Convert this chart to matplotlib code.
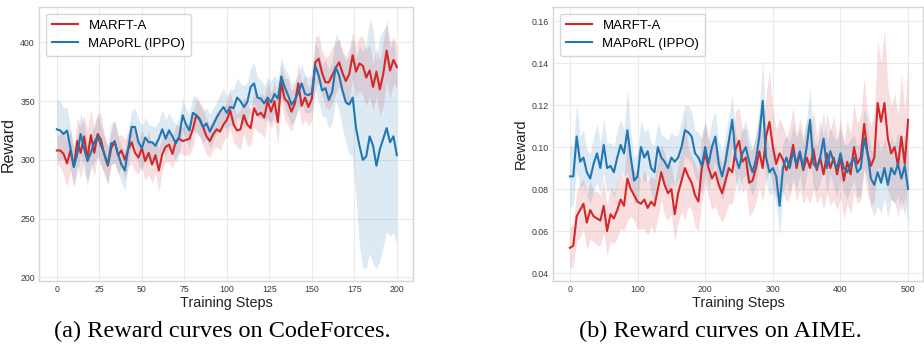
"""Reward curves of MARFT-A vs MAPoRL (IPPO) on CodeForces and AIME."""

import numpy as np
import matplotlib
matplotlib.use("Agg")
import matplotlib.pyplot as plt

# ---- CodeForces (every 2nd training step, 0..200) ----
CF_STEPS = list(range(0, 201, 2))

CF_MARFT = [
    308, 308, 305, 297, 308, 294, 316, 306, 320, 301,
    321, 306, 322, 317, 304, 295, 310, 316, 304, 308,
    300, 309, 315, 306, 302, 310, 299, 306, 296, 304,
    291, 305, 311, 313, 305, 316, 318, 316, 317, 318,
    326, 338, 334, 328, 320, 316, 322, 326, 324, 330,
    334, 342, 330, 325, 326, 338, 330, 327, 344, 338,
    340, 336, 350, 341, 350, 332, 366, 352, 349, 341,
    348, 365, 346, 353, 345, 352, 383, 386, 374, 366,
    366, 372, 378, 383, 374, 367, 373, 389, 375, 382,
    380, 370, 376, 362, 375, 360, 373, 393, 376, 385,
    379,
]
CF_MARFT_STD = [
    12, 14, 18, 20, 17, 16,
    20, 22, 18, 25, 22, 20, 18, 22, 17, 16,
    15, 18, 16, 14, 17, 15, 18, 16, 14, 15, 17, 18, 16, 15, 19,
    14, 13, 15, 12, 14, 11, 12, 13, 14, 15, 13, 14, 16, 15, 14, 13, 15, 16, 14, 15,
    16, 15, 14, 17, 16, 18, 15, 16, 14, 17, 18, 16, 15, 17, 19, 16, 18, 20, 17, 15,
    18, 17, 19, 16, 18,
    22, 20, 19, 21, 23, 24, 22, 20, 19, 21, 22, 20, 21, 23, 25, 24, 22, 20, 21, 23,
    28, 26, 24, 20, 18,
]
CF_MAPORL = [
    326, 325, 322, 325, 310, 294, 305, 322, 310, 299,
    306, 315, 320, 312, 305, 296, 314, 315, 305, 296,
    291, 310, 328, 328, 315, 310, 319, 315, 315, 312,
    318, 326, 318, 325, 320, 314, 320, 338, 330, 325,
    340, 338, 335, 328, 331, 324, 330, 336, 341, 345,
    340, 345, 344, 353, 350, 345, 349, 362, 365, 353,
    352, 348, 353, 349, 356, 352, 371, 362, 355, 347,
    351, 357, 365, 356, 355, 357, 380, 372, 359, 361,
    351, 358, 379, 372, 359, 349, 347, 353, 327, 312,
    300, 303, 320, 312, 295, 309, 318, 327, 315, 320,
    304,
]
CF_MAPORL_STD = [
    26, 25, 22, 20, 18, 17,
    16, 18, 20, 17, 15, 16, 18, 17, 15, 16,
    17, 18, 16, 15, 17, 15, 14, 16, 20, 19, 17, 15, 14, 16, 15,
    17, 16, 15, 14, 16, 15, 14, 13, 15, 14, 16, 15, 14, 13, 15, 14, 13, 15, 16, 14,
    15, 16, 17, 15, 18, 17, 16, 18, 17, 16, 15, 17, 18, 16, 15, 17, 16, 18, 17, 16,
    15, 17, 16, 15, 16,
    20, 22, 22, 24, 25, 26, 28, 30, 32, 35, 42, 50, 60,
    85, 92, 95, 100, 100, 88, 95, 92, 88, 80, 82, 76,
]

# ---- AIME (every 5th training step, 0..500) ----
AIME_STEPS = list(range(0, 501, 5))

AIME_MARFT = [
    0.052, 0.053, 0.067, 0.070, 0.073, 0.064, 0.070, 0.067, 0.066, 0.065,
    0.072, 0.060, 0.068, 0.066, 0.070, 0.075, 0.072, 0.085, 0.080, 0.077,
    0.074, 0.073, 0.075, 0.071, 0.074, 0.072, 0.080, 0.088, 0.082, 0.078,
    0.080, 0.068, 0.078, 0.084, 0.090, 0.086, 0.083, 0.077, 0.074, 0.090,
    0.097, 0.090, 0.085, 0.088, 0.082, 0.078, 0.084, 0.090, 0.088, 0.099,
    0.103, 0.093, 0.095, 0.083, 0.084, 0.090, 0.098, 0.090, 0.105, 0.112,
    0.100, 0.092, 0.097, 0.094, 0.089, 0.093, 0.101, 0.090, 0.097, 0.089,
    0.095, 0.090, 0.099, 0.089, 0.095, 0.087, 0.097, 0.090, 0.095, 0.087,
    0.095, 0.084, 0.093, 0.087, 0.100, 0.092, 0.095, 0.111, 0.097, 0.091,
    0.095, 0.121, 0.112, 0.121, 0.104, 0.097, 0.100, 0.091, 0.105, 0.092,
    0.113,
]
AIME_MARFT_STD = [
    0.010, 0.010, 0.012, 0.013, 0.012, 0.013, 0.014, 0.012, 0.013, 0.012, 0.013,
    0.012, 0.013, 0.012, 0.013, 0.014, 0.012, 0.020, 0.013, 0.012, 0.013,
    0.012, 0.014, 0.013, 0.012, 0.013, 0.014, 0.013, 0.015, 0.013, 0.012,
    0.013, 0.014, 0.015, 0.025, 0.014, 0.013, 0.015, 0.014, 0.016, 0.015,
    0.014, 0.015, 0.016, 0.015, 0.014, 0.016, 0.017, 0.015, 0.018, 0.016,
    0.015, 0.014, 0.016, 0.015, 0.016, 0.017, 0.016, 0.020, 0.024, 0.018,
    0.016, 0.017, 0.016, 0.015, 0.017, 0.018, 0.016, 0.017, 0.016, 0.018,
    0.017, 0.019, 0.016, 0.018, 0.017, 0.019, 0.018, 0.020, 0.017, 0.019,
    0.018, 0.020, 0.019, 0.021, 0.019, 0.020, 0.022, 0.020, 0.019, 0.021,
    0.030, 0.028, 0.035, 0.025, 0.022, 0.026, 0.024, 0.030, 0.025, 0.028,
]
AIME_MAPORL = [
    0.086, 0.086, 0.105, 0.093, 0.095, 0.088, 0.085, 0.092, 0.097, 0.090,
    0.101, 0.090, 0.091, 0.088, 0.095, 0.101, 0.097, 0.108, 0.095, 0.084,
    0.086, 0.100, 0.095, 0.098, 0.090, 0.088, 0.100, 0.095, 0.093, 0.090,
    0.095, 0.093, 0.095, 0.100, 0.108, 0.107, 0.105, 0.097, 0.095, 0.091,
    0.100, 0.092, 0.100, 0.105, 0.092, 0.086, 0.093, 0.103, 0.113, 0.095,
    0.090, 0.097, 0.100, 0.093, 0.088, 0.094, 0.105, 0.122, 0.095, 0.088,
    0.090, 0.086, 0.072, 0.090, 0.095, 0.090, 0.098, 0.092, 0.098, 0.090,
    0.100, 0.113, 0.092, 0.090, 0.095, 0.104, 0.090, 0.098, 0.093, 0.090,
    0.097, 0.090, 0.088, 0.092, 0.095, 0.088, 0.090, 0.104, 0.097, 0.085,
    0.082, 0.088, 0.083, 0.090, 0.082, 0.090, 0.087, 0.092, 0.085, 0.091,
    0.080,
]
AIME_MAPORL_STD = [
    0.015, 0.014, 0.016, 0.012, 0.013, 0.011, 0.012, 0.013, 0.014, 0.012, 0.013,
    0.012, 0.011, 0.012, 0.013, 0.012, 0.011, 0.020, 0.012, 0.011, 0.012,
    0.013, 0.012, 0.011, 0.012, 0.013, 0.012, 0.011, 0.012, 0.013, 0.012,
    0.012, 0.011, 0.013, 0.012, 0.013, 0.012, 0.011, 0.012, 0.013, 0.012,
    0.012, 0.013, 0.012, 0.011, 0.012, 0.013, 0.012, 0.012, 0.011, 0.012,
    0.012, 0.013, 0.012, 0.011, 0.012, 0.013, 0.020, 0.012, 0.011, 0.012,
    0.013, 0.014, 0.012, 0.011, 0.012, 0.013, 0.012, 0.011, 0.012, 0.013,
    0.016, 0.012, 0.011, 0.012, 0.013, 0.012, 0.011, 0.012, 0.013, 0.012,
    0.012, 0.013, 0.012, 0.011, 0.012, 0.013, 0.014, 0.013, 0.014, 0.015,
    0.016, 0.015, 0.014, 0.016, 0.015, 0.014, 0.015, 0.016, 0.015, 0.018,
]

LABELS = ["MARFT-A", "MAPoRL (IPPO)"]
COLORS = ["#d62728", "#1f77b4"]
CAPTIONS = ["(a) Reward curves on CodeForces.", "(b) Reward curves on AIME."]

GRID = "#ebebeb"
EDGE = "#d6d6d6"
TICK = "#3a3a3a"

plt.rcParams["font.family"] = ["Liberation Sans", "DejaVu Sans"]

fig = plt.figure(figsize=(9.24, 3.56), dpi=100)
ax_cf = fig.add_axes([39 / 924, 75 / 356, 374 / 924, 274 / 356])
ax_ai = fig.add_axes([553 / 924, 75 / 356, 370 / 924, 274 / 356])

panels = [
    (ax_cf, CF_STEPS, [(CF_MARFT, CF_MARFT_STD), (CF_MAPORL, CF_MAPORL_STD)], 11.5),
    (ax_ai, AIME_STEPS, [(AIME_MARFT, AIME_MARFT_STD), (AIME_MAPORL, AIME_MAPORL_STD)], 10.5),
]

for ax, steps, series, ylab_size in panels:
    x = np.array(steps)
    for (mean, std), label, color in zip(series, LABELS, COLORS):
        m = np.array(mean)
        s = np.array(std)
        ax.fill_between(x, m - s, m + s, color=color, alpha=0.15, linewidth=0)
        ax.plot(x, m, color=color, linewidth=1.5, label=label)

    ax.grid(True, color=GRID, linewidth=0.8)
    ax.set_axisbelow(True)
    for sp in ax.spines.values():
        sp.set_color(EDGE)
        sp.set_linewidth(1.0)
    ax.tick_params(length=0, labelsize=6.3, labelcolor=TICK, pad=3)
    ax.set_xlabel("Training Steps", fontsize=10.4, labelpad=1, color="#222222")
    ax.set_ylabel("Reward", fontsize=ylab_size, labelpad=3, color="#222222")
    ax.legend(loc="upper left", fontsize=9.5, frameon=True, edgecolor="#cccccc",
              handlelength=2.0, labelspacing=0.45, borderpad=0.45)

ax_cf.set_xlim(-10.5, 209.5)
ax_cf.set_ylim(197, 430)
ax_cf.set_xticks(range(0, 201, 25))
ax_cf.set_yticks(range(200, 401, 50))

ax_ai.set_xlim(-25, 522)
ax_ai.set_ylim(0.0362, 0.1667)
ax_ai.set_xticks(range(0, 501, 100))
ax_ai.set_yticks([0.04, 0.06, 0.08, 0.10, 0.12, 0.14, 0.16])
ax_ai.yaxis.set_major_formatter(matplotlib.ticker.FormatStrFormatter("%.2f"))

for xc, cap in zip([222 / 924, 720 / 924], CAPTIONS):
    fig.text(xc, 0.068, cap, ha="center", va="center", fontsize=17.5,
             family=["Liberation Serif", "DejaVu Serif"])

fig.savefig("out.png", dpi=100, facecolor="white")
